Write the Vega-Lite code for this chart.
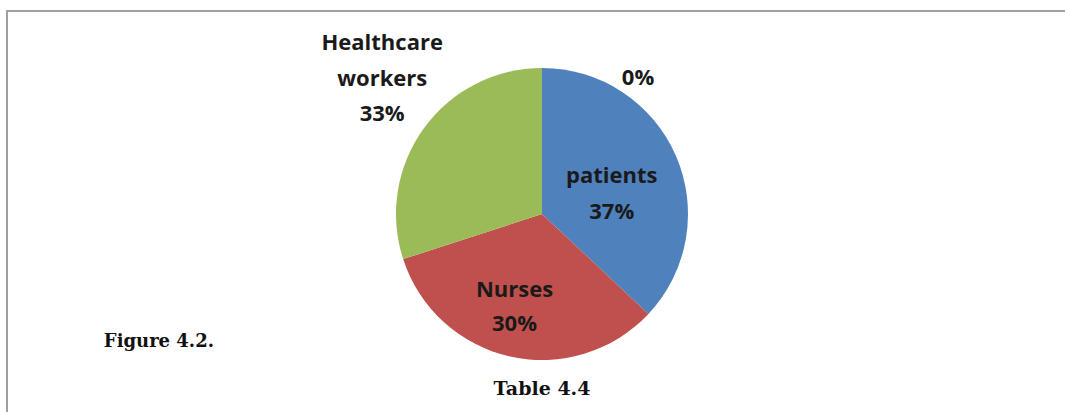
{
  "$schema": "https://vega.github.io/schema/vega-lite/v6.json",
  "width": 1070,
  "height": 406,
  "autosize": {"type": "none"},
  "padding": {"left": 7, "top": 11, "right": -12, "bottom": -5},
  "background": "white",
  "view": {"stroke": "#a0a0a0", "strokeWidth": 2},
  "layer": [
    {
      "data": {
        "values": [
          {"category": "patients", "value": 37, "label": "patients\n37%", "rank": 1},
          {"category": "Nurses", "value": 33, "label": "Nurses\n30%", "rank": 2},
          {"category": "Healthcare workers", "value": 30, "label": "Healthcare\nworkers\n33%", "rank": 3},
          {"category": "other", "value": 0, "label": "0%", "rank": 4}
        ]
      },
      "encoding": {
        "theta": {"field": "value", "type": "quantitative", "stack": true},
        "order": {"field": "rank", "type": "quantitative"}
      },
      "layer": [
        {
          "mark": {"type": "arc", "outerRadius": 146},
          "encoding": {
            "color": {
              "field": "category",
              "type": "nominal",
              "scale": {
                "domain": ["patients", "Nurses", "Healthcare workers", "other"],
                "range": ["#4F81BD", "#C0504D", "#9BBB59", "#8064A2"]
              },
              "legend": null
            }
          }
        },
        {
          "mark": {"type": "text", "radius": 76, "dy": -8, "font": "Open Sans", "fontWeight": "bold", "fontSize": 22, "lineBreak": "\n", "lineHeight": 36, "color": "#1a1a1a"},
          "encoding": {"text": {"condition": {"test": "datum.category === 'patients'", "field": "label", "type": "nominal"}, "value": ""}}
        },
        {
          "mark": {"type": "text", "radius": 94, "dx": -7, "dy": -16, "font": "Open Sans", "fontWeight": "bold", "fontSize": 22, "lineBreak": "\n", "lineHeight": 34, "color": "#1a1a1a"},
          "encoding": {"text": {"condition": {"test": "datum.category === 'Nurses'", "field": "label", "type": "nominal"}, "value": ""}}
        },
        {
          "mark": {"type": "text", "radius": 200, "dx": 2, "dy": -53, "font": "Open Sans", "fontWeight": "bold", "fontSize": 22, "lineBreak": "\n", "lineHeight": 35.5, "color": "#1a1a1a"},
          "encoding": {"text": {"condition": {"test": "datum.category === 'Healthcare workers'", "field": "label", "type": "nominal"}, "value": ""}}
        },
        {
          "mark": {"type": "text", "radius": 136, "dx": 96, "font": "Open Sans", "fontWeight": "bold", "fontSize": 22, "lineBreak": "\n", "lineHeight": 35, "color": "#1a1a1a"},
          "encoding": {"text": {"condition": {"test": "datum.category === 'other'", "field": "label", "type": "nominal"}, "value": ""}}
        }
      ]
    },
    {
      "data": {"values": [{"caption": "Figure 4.2."}]},
      "mark": {"type": "text", "theta": 4.3895, "radius": 404, "font": "DejaVu Serif", "fontWeight": "bold", "fontSize": 18, "color": "#111111"},
      "encoding": {"text": {"field": "caption", "type": "nominal"}}
    },
    {
      "data": {"values": [{"caption": "Table 4.4"}]},
      "mark": {"type": "text", "theta": 3.14159, "radius": 175, "font": "DejaVu Serif", "fontWeight": "bold", "fontSize": 19, "color": "#111111"},
      "encoding": {"text": {"field": "caption", "type": "nominal"}}
    }
  ]
}
